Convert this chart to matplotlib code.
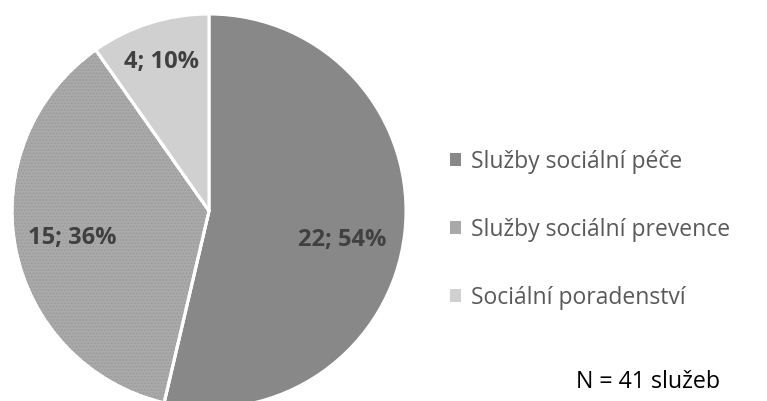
import matplotlib.pyplot as plt
from matplotlib.patches import Wedge

plt.rcParams['font.family'] = ['Open Sans', 'DejaVu Sans']
plt.rcParams['hatch.linewidth'] = 0.6

categories = ['Služby sociální péče', 'Služby sociální prevence', 'Sociální poradenství']
counts = [22, 15, 4]
percents = [54, 36, 10]
colors = ['#888888', '#a9a9a9', '#d0d0d0']
note = 'N = 41 služeb'

W, H = 767, 401
fig = plt.figure(figsize=(W / 100, H / 100), dpi=100)
ax = fig.add_axes([0, 0, 1, 1])

cx, cy, r = 209, H - 211, 197
labels = ['%d; %d%%' % (c, p) for c, p in zip(counts, percents)]
wedges, texts = ax.pie(counts, colors=colors, startangle=90, counterclock=False,
                       center=(cx, cy), radius=r, labels=labels, labeldistance=0.66,
                       wedgeprops=dict(edgecolor='white', linewidth=2.2),
                       textprops=dict(color='#404040', fontsize=17, fontweight='bold'),
                       frame=True)
ax.set_xlim(0, W)
ax.set_ylim(0, H)
ax.axis('off')

# dotted texture on the middle slice
w = wedges[1]
tex = Wedge(w.center, w.r, w.theta1, w.theta2, facecolor='none', edgecolor='#999999',
            linewidth=0, hatch='.....', zorder=w.get_zorder() + 0.1)
ax.add_patch(tex)
border = Wedge(w.center, w.r, w.theta1, w.theta2, facecolor='none', edgecolor='white',
               linewidth=2.2, zorder=w.get_zorder() + 0.2)
ax.add_patch(border)

# label positions as in reference
texts[0].set_position((342, H - 240))
texts[1].set_position((72, H - 238))
texts[2].set_position((161, H - 62))
for t in texts:
    t.set_ha('center')
    t.set_va('center')
    t.set_zorder(5)

leg = ax.legend(wedges, categories, loc='upper left', bbox_to_anchor=(429 / W, 1 - 129 / H),
                frameon=False, fontsize=16.5, labelcolor='#595959',
                handlelength=0.5, handleheight=0.5, handletextpad=0.45, labelspacing=1.93)
for h in leg.legend_handles:
    h.set_edgecolor('none')

fig.text(648 / W, 1 - 382 / H, note, ha='center', va='center', fontsize=16.7, color='black')

fig.savefig('out.png', dpi=100)
